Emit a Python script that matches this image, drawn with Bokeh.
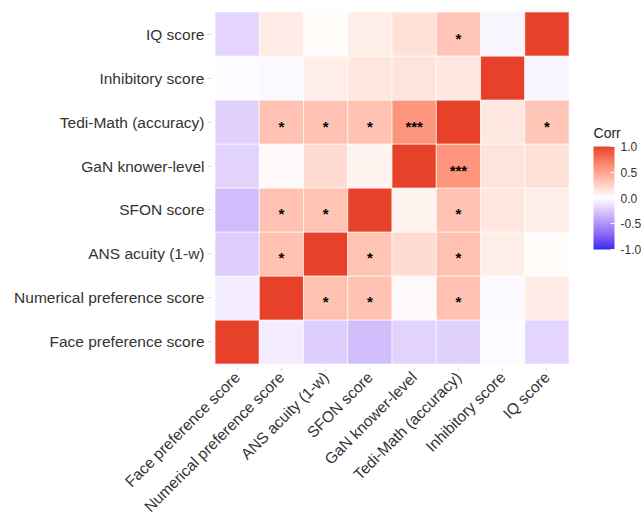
import math
from bokeh.plotting import figure
from bokeh.models import (ColumnDataSource, LinearColorMapper, ColorBar, FixedTicker,
                          PrintfTickFormatter, Label, Range1d)
from bokeh.core.properties import value
from bokeh.embed import file_html
from bokeh.resources import INLINE

# ---------------- data ----------------
variables = ["Face preference score", "Numerical preference score", "ANS acuity (1-w)",
             "SFON score", "GaN knower-level", "Tedi-Math (accuracy)",
             "Inhibitory score", "IQ score"]

corr_face   = [1.00, -0.08, -0.22, -0.30, -0.20, -0.21, -0.02, -0.19]
corr_num    = [-0.08, 1.00, 0.35, 0.34, 0.03, 0.34, -0.03, 0.11]
corr_ans    = [-0.22, 0.35, 1.00, 0.33, 0.20, 0.34, 0.10, 0.02]
corr_sfon   = [-0.30, 0.34, 0.33, 1.00, 0.07, 0.34, 0.14, 0.10]
corr_gan    = [-0.20, 0.03, 0.20, 0.07, 1.00, 0.58, 0.15, 0.17]
corr_tedi   = [-0.21, 0.34, 0.34, 0.34, 0.58, 1.00, 0.13, 0.32]
corr_inhib  = [-0.02, -0.03, 0.10, 0.14, 0.15, 0.13, 1.00, -0.04]
corr_iq     = [-0.19, 0.11, 0.02, 0.10, 0.17, 0.32, -0.04, 1.00]
corr_rows = [corr_face, corr_num, corr_ans, corr_sfon, corr_gan, corr_tedi, corr_inhib, corr_iq]

sig_a = ["Numerical preference score", "Numerical preference score", "Numerical preference score",
         "ANS acuity (1-w)", "ANS acuity (1-w)", "SFON score", "GaN knower-level",
         "Tedi-Math (accuracy)"]
sig_b = ["ANS acuity (1-w)", "SFON score", "Tedi-Math (accuracy)",
         "SFON score", "Tedi-Math (accuracy)", "Tedi-Math (accuracy)", "Tedi-Math (accuracy)",
         "IQ score"]
sig_lab = ["*", "*", "*", "*", "*", "*", "***", "*"]

corr_ticks = [-1.0, -0.5, 0.0, 0.5, 1.0]

# ---------------- palette (Lab interpolation blue-white-red) ----------------
def _to_lin(c):
    c = c / 255.0
    return c / 12.92 if c <= 0.04045 else ((c + 0.055) / 1.055) ** 2.4

def _from_lin(c):
    c = max(0.0, min(1.0, c))
    v = 12.92 * c if c <= 0.0031308 else 1.055 * c ** (1 / 2.4) - 0.055
    return int(round(max(0, min(1, v)) * 255))

def _f(t):
    return t ** (1 / 3) if t > 0.008856 else 7.787 * t + 16 / 116

def _finv(t):
    return t ** 3 if t ** 3 > 0.008856 else (t - 16 / 116) / 7.787

def hex2lab(h):
    r, g, b = (_to_lin(int(h[i:i + 2], 16)) for i in (1, 3, 5))
    X = 0.4124 * r + 0.3576 * g + 0.1805 * b
    Y = 0.2126 * r + 0.7152 * g + 0.0722 * b
    Z = 0.0193 * r + 0.1192 * g + 0.9505 * b
    fx, fy, fz = _f(X / 0.95047), _f(Y), _f(Z / 1.08883)
    return (116 * fy - 16, 500 * (fx - fy), 200 * (fy - fz))

def lab2hex(L, a, b):
    fy = (L + 16) / 116
    fx = fy + a / 500
    fz = fy - b / 200
    X, Y, Z = 0.95047 * _finv(fx), _finv(fy), 1.08883 * _finv(fz)
    r = 3.2406 * X - 1.5372 * Y - 0.4986 * Z
    g = -0.9689 * X + 1.8758 * Y + 0.0415 * Z
    bb = 0.0557 * X - 0.2040 * Y + 1.0570 * Z
    return "#%02x%02x%02x" % (_from_lin(r), _from_lin(g), _from_lin(bb))

low_lab, mid_lab, high_lab = hex2lab("#2b2bee"), hex2lab("#ffffff"), hex2lab("#e8412a")
palette = []
n = 256
for k in range(n):
    t = -1 + 2 * k / (n - 1)
    end = high_lab if t >= 0 else low_lab
    w = abs(t)
    palette.append(lab2hex(*[mid_lab[i] + (end[i] - mid_lab[i]) * w for i in range(3)]))

# ---------------- build sources ----------------
pos = {name: k for k, name in enumerate(variables)}
xs, ys, vals = [], [], []
for i, rv in enumerate(variables):
    for j, cv in enumerate(variables):
        xs.append(pos[cv])
        ys.append(pos[rv])
        vals.append(corr_rows[i][j])
src = ColumnDataSource(dict(x=xs, y=ys, v=vals))

sx, sy, st = [], [], []
for a, b, lab in zip(sig_a, sig_b, sig_lab):
    sx += [pos[a], pos[b]]
    sy += [pos[b], pos[a]]
    st += [lab, lab]
star_src = ColumnDataSource(dict(x=sx, y=sy, t=st))

mapper = LinearColorMapper(palette=palette, low=-1, high=1)

# ---------------- figure (frame extends over the legend area) ----------------
p = figure(x_range=Range1d(-0.58, 9.16), y_range=Range1d(-0.58, 7.58),
           frame_width=431, frame_height=359,
           min_border_left=211, min_border_top=8, min_border_bottom=0, min_border_right=0,
           output_backend="svg", toolbar_location=None)

p.rect(x="x", y="y", width=1, height=1, source=src,
       fill_color={"field": "v", "transform": mapper},
       line_color="white", line_width=0.6)

p.text(x="x", y="y", text="t", source=star_src, text_align="center",
       text_baseline="middle", y_offset=4, text_font=value("Liberation Sans"),
       text_font_size="15px", text_font_style="bold", text_color="black")

p.outline_line_color = None
p.background_fill_color = "white"
p.grid.visible = False

tick_pos = list(range(len(variables)))
for ax in (p.xaxis, p.yaxis):
    ax.ticker = FixedTicker(ticks=tick_pos)
    ax.major_label_overrides = {k: name for k, name in enumerate(variables)}
    ax.axis_line_color = None
    ax.major_tick_line_color = "#dddddd"
    ax.major_tick_out = 4
    ax.major_tick_in = 0
    ax.minor_tick_line_color = None
    ax.major_label_text_font = "Liberation Sans"
    ax.major_label_text_font_size = "15.5px"
    ax.major_label_text_color = "#333333"
    ax.major_label_standoff = 3

p.xaxis.major_label_orientation = math.pi / 4

cb = ColorBar(color_mapper=mapper, ticker=FixedTicker(ticks=corr_ticks),
              formatter=PrintfTickFormatter(format="%.1f"),
              major_label_text_font="Liberation Sans", major_label_text_font_size="12px",
              major_label_text_color="#333333", label_standoff=6,
              major_tick_line_color="white", major_tick_in=4, major_tick_out=0,
              minor_tick_line_color=None, bar_line_color=None,
              width=21, height=103, location=(376, 112), padding=6,
              background_fill_color=None, border_line_color=None)
p.add_layout(cb, "center")

corr_title = Label(x=8.053, y=4.76, text="Corr",
                   text_font="Liberation Sans", text_font_size="14px",
                   text_color="#222222", text_align="left", text_baseline="alphabetic")
p.add_layout(corr_title)

with open("out.html", "w") as fh:
    fh.write(file_html(p, INLINE))
